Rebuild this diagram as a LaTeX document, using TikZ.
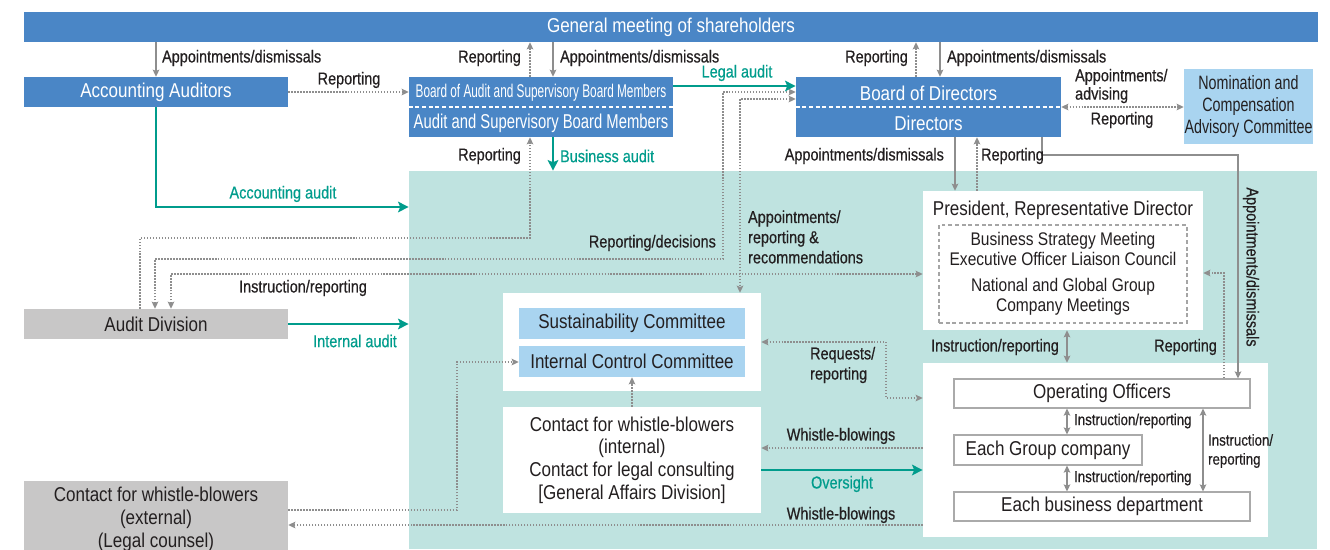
\documentclass[tikz,border=0pt]{standalone}
\usepackage{fontspec}
\setmainfont{Liberation Sans}[FakeStretch=0.85]
\newfontfamily\condfont{Liberation Sans}[FakeStretch=0.74]
\newfontfamily\xcondfont{Liberation Sans}[FakeStretch=0.64]
\newfontfamily\lblfont{Liberation Sans}[FakeStretch=0.84,FakeBold=0.5]
\usetikzlibrary{arrows.meta}
\definecolor{Ink}{HTML}{231F20}
\definecolor{Blue}{HTML}{4A86C6}
\definecolor{Sky}{HTML}{A9D4F0}
\definecolor{Aqua}{HTML}{BFE3E0}
\definecolor{Green}{HTML}{009C8C}
\definecolor{Rule}{HTML}{8E8E8E}
\definecolor{Stone}{HTML}{C8C7C7}
\tikzset{
  sz/.style 2 args={minimum width=#1*0.02cm,minimum height=#2*0.02cm},
  box/.style={inner sep=0pt,align=center,text=Ink,font=\fontsize{11.4}{13}\selectfont},
  bluebox/.style={box,fill=Blue,text=white},
  skybox/.style={box,fill=Sky},
  greybox/.style={box,fill=Stone},
  whitebox/.style={box,fill=white},
  linebox/.style={box,fill=white,draw=Rule!75,line width=.7pt},
  lbl/.style={inner sep=1pt,align=left,text=Ink,font=\lblfont\fontsize{9.8}{11.5}\selectfont},
  smalllbl/.style={lbl,font=\lblfont\fontsize{9}{10.8}\selectfont},
  tlbl/.style={lbl,text=Green},
  link/.style={draw=Rule,line width=.8pt,arrows={-Stealth[length=4pt,width=3.8pt,inset=.8pt]}},
  dotlink/.style={link,dash pattern=on .8pt off .9pt},
  twoway/.style={arrows={Stealth[length=4pt,width=3.8pt,inset=.8pt]-Stealth[length=4pt,width=3.8pt,inset=.8pt]}},
  audit/.style={draw=Green,line width=1.5pt,arrows={-Stealth[length=6pt,width=6pt,inset=1.2pt]}},
  divider/.style={draw=white,line width=.6pt,dash pattern=on 2.2pt off 1.6pt}
}
\begin{document}
\begin{tikzpicture}[x=0.02cm,y=-0.02cm]
\useasboundingbox (0,0) rectangle (1330,549);
% area of the executive side
\node[fill=Aqua,sz={908}{378},inner sep=0pt] (zone) at (863,360) {};
% top level bodies
\node[bluebox,sz={1294}{30}] (gm) at (671,27) {General meeting of shareholders};
\node[bluebox,sz={264}{30}] (aa) at (156,92) {Accounting Auditors};
\node[bluebox,sz={264}{60}] (asb) at (541,107) {};
\node[bluebox,sz={265}{60}] (bod) at (928.5,107) {};
\draw[divider] (asb.west) -- (asb.east);
\draw[divider] (bod.west) -- (bod.east);
\node[text=white,font=\xcondfont\fontsize{10.5}{12}\selectfont] (asbtop) at (541,93) {Board of Audit and Supervisory Board Members};
\node[text=white,font=\condfont\fontsize{11.4}{13}\selectfont] (asbbot) at (541,123) {Audit and Supervisory Board Members};
\node[text=white,font=\fontsize{11.4}{13}\selectfont] (bodtop) at (928.5,93) {Board of Directors};
\node[text=white,font=\fontsize{11.4}{13}\selectfont] (bodbot) at (928.5,123) {Directors};
\node[skybox,sz={129}{75},font=\condfont\fontsize{11}{12.6}\selectfont] (ncac) at (1248.5,106.5) {Nomination and\\Compensation\\Advisory Committee};
% left side
\node[greybox,sz={264}{30}] (ad) at (156,324) {Audit Division};
\node[greybox,sz={264}{76},font=\fontsize{11.4}{13}\selectfont] (wbe) at (156,519) {Contact for whistle-blowers\\(external)\\(Legal counsel)};
% executive boxes
\node[whitebox,sz={280}{139}] (pres) at (1063,260.5) {};
\node[box] (prestitle) at (1063,210) {President, Representative Director};
\node[box,draw=Rule!80,line width=.6pt,dash pattern=on 2.2pt off 1.6pt,sz={248}{98},font=\fontsize{10.4}{11.6}\selectfont] (meet) at (1063,274) {Business Strategy Meeting\\Executive Officer Liaison Council\\[3pt]National and Global Group\\Company Meetings};
\node[whitebox,sz={345}{174}] (opz) at (1095.5,450) {};
\node[linebox,sz={296}{29}] (oo) at (1102,393.5) {Operating Officers};
\node[linebox,sz={188}{30}] (grp) at (1048,450) {Each Group company};
\node[linebox,sz={296}{29}] (dept) at (1102,506.5) {Each business department};
\node[whitebox,sz={258}{98}] (cmz) at (632,342) {};
\node[skybox,sz={226}{31}] (sus) at (632,323.5) {Sustainability Committee};
\node[skybox,sz={226}{31}] (icc) at (632,361.5) {Internal Control Committee};
\node[whitebox,sz={258}{106},font=\fontsize{11.4}{12.9}\selectfont] (wbi) at (632,460) {Contact for whistle-blowers\\(internal)\\Contact for legal consulting\\{[General Affairs Division]}};
% connectors, top
\draw[link] (gm.south -| aa.north) -- (aa.north);
\draw[dotlink] (aa.east) -- (asb.west |- aa.east);
\draw[dotlink] (530,0 |- asb.north) -- (530,0 |- gm.south);
\draw[link] (553,0 |- gm.south) -- (553,0 |- asb.north);
\draw[audit] (asb.east |- 0,86) -- (bod.west |- 0,86);
\draw[dotlink] (916,0 |- bod.north) -- (916,0 |- gm.south);
\draw[link] (940,0 |- gm.south) -- (940,0 |- bod.north);
\draw[dotlink,twoway] (bod.east) -- (ncac.west |- bod.east);
% audits
\draw[audit] (aa.south) |- (zone.west |- 0,207);
\draw[audit] (553,0 |- asb.south) -- (553,0 |- zone.north);
\draw[audit] (ad.east) -- (zone.west |- ad.east);
\draw[audit] (wbi.east |- 0,470) -- (opz.west |- 0,470);
% reporting lines across the zone
\draw[dotlink] (140,0 |- ad.north) |- (530,238) -- (530,0 |- asb.south);
\draw[dotlink,twoway] (155,0 |- ad.north) |- (723,259) |- (bod.west |- 0,92);
\draw[dotlink,twoway] (171,0 |- ad.north) |- (pres.west |- 0,274);
\draw[dotlink,twoway] (bod.west |- 0,99) -| (740,0 |- cmz.north);
\draw[link] (955,0 |- bod.south) -- (955,0 |- pres.north);
\draw[dotlink] (977,0 |- pres.north) -- (977,0 |- bod.south);
\draw[link] (1042,0 |- bod.south) |- (1238,155) -- (1238,0 |- oo.north);
\draw[link,twoway] (1067,0 |- pres.south) -- (1067,0 |- opz.north);
\draw[dotlink] (1224,0 |- oo.north) |- (pres.east |- 0,273);
\draw[link,twoway] (1067,0 |- oo.south) -- (1067,0 |- grp.north);
\draw[link,twoway] (1067,0 |- grp.south) -- (1067,0 |- dept.north);
\draw[link,twoway] (1203,0 |- oo.south) -- (1203,0 |- dept.north);
\draw[dotlink,twoway] (cmz.east) -| (886,398) -- (opz.west |- 0,398);
\draw[dotlink] (wbi.north) -- (icc.south);
\draw[dotlink] (opz.west |- 0,448) -- (wbi.east |- 0,448);
\draw[dotlink] (opz.west |- 0,525) -- (wbe.east |- 0,525);
\draw[dotlink] (wbe.east |- 0,510) -| (457,362) -- (icc.west |- 0,362);
% labels
\node[lbl,anchor=west] (l1) at (160,58) {Appointments/dismissals};
\node[lbl] (l2) at (349,80) {Reporting};
\node[lbl,anchor=east] (l3) at (523,58) {Reporting};
\node[lbl,anchor=west] (l4) at (558,58) {Appointments/dismissals};
\node[tlbl] (l5) at (737,73) {Legal audit};
\node[lbl,anchor=east] (l6) at (910,58) {Reporting};
\node[lbl,anchor=west] (l7) at (945,58) {Appointments/dismissals};
\node[lbl,anchor=west,font=\lblfont\fontsize{9.8}{10.4}\selectfont] (l8) at (1073,86) {Appointments/\\advising};
\node[lbl] (l9) at (1122,120) {Reporting};
\node[tlbl] (l10) at (283,194) {Accounting audit};
\node[lbl,anchor=east] (l11) at (523,156) {Reporting};
\node[tlbl,anchor=west] (l12) at (558,156) {Business audit};
\node[lbl,anchor=east] (l13) at (946,156) {Appointments/dismissals};
\node[lbl,anchor=west] (l14) at (979,156) {Reporting};
\node[lbl,anchor=east] (l15) at (718,243) {Reporting/decisions};
\node[lbl,anchor=west] (l16) at (746,237) {Appointments/\\reporting \&\\recommendations};
\node[lbl] (l17) at (303,288) {Instruction/reporting};
\node[tlbl] (l18) at (355,341) {Internal audit};
\node[lbl,anchor=east] (l19) at (1061,347) {Instruction/reporting};
\node[lbl,anchor=east] (l20) at (1219,347) {Reporting};
\node[lbl,anchor=west] (l21) at (808,365) {Requests/\\reporting};
\node[lbl,rotate=-90] (l22) at (1251,267) {Appointments/dismissals};
\node[smalllbl,anchor=west] (l23) at (1072,421) {Instruction/reporting};
\node[smalllbl,anchor=west] (l24) at (1072,478) {Instruction/reporting};
\node[smalllbl,anchor=west] (l25) at (1206,451) {Instruction/\\reporting};
\node[lbl] (l26) at (841,436) {Whistle-blowings};
\node[tlbl] (l27) at (842,484) {Oversight};
\node[lbl] (l28) at (841,515) {Whistle-blowings};
\end{tikzpicture}
\end{document}
